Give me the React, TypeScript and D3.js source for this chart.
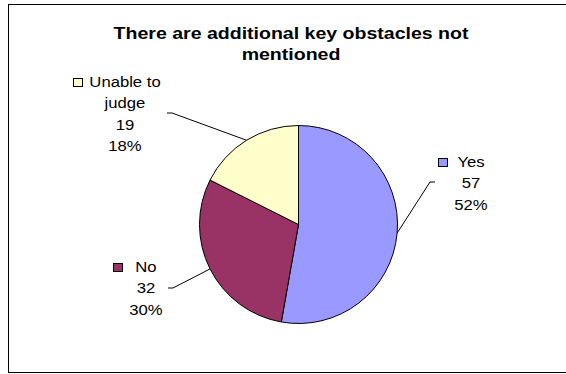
import React, { useEffect, useRef } from "react";
import * as d3 from "d3";

const categories = ["Yes", "No", "Unable to judge"];
const values = [57, 32, 19];
const percentLabels = ["52%", "30%", "18%"];
const nameLines = [["Yes"], ["No"], ["Unable to", "judge"]];
const colors = ["#9999FF", "#993366", "#FFFFCC"];
const titleLines = ["There are additional key obstacles not", "mentioned"];

const W = 566;
const H = 374;
const FONT = "'Liberation Sans', Arial, sans-serif";
const SX = 1.15; // horizontal stretch of the original picture

// layout for label blocks (centre x, first baseline, leader elbow, leader tick end)
const labelLayout = [
  { cx: 471, y0: 167, elbow: [430, 182], tick: 435 },
  { cx: 146, y0: 272, elbow: [173, 288], tick: 168 },
  { cx: 125, y0: 87, elbow: [172, 113], tick: 167 },
];

export default function App() {
  const ref = useRef<SVGSVGElement | null>(null);

  useEffect(() => {
    const svg = d3.select(ref.current);
    svg.selectAll("*").remove();

    // frame
    svg
      .append("rect")
      .attr("x", 8.5)
      .attr("y", 4.5)
      .attr("width", 562)
      .attr("height", 368)
      .attr("fill", "#fff")
      .attr("stroke", "#000")
      .attr("stroke-width", 1);

    // title
    const title = svg.append("g").attr("transform", `translate(291,0) scale(${SX},1)`);
    titleLines.forEach((t, i) => {
      title
        .append("text")
        .attr("x", 0)
        .attr("y", 39 + i * 21.5)
        .attr("text-anchor", "middle")
        .attr("font-family", FONT)
        .attr("font-weight", "bold")
        .attr("font-size", 17)
        .attr("fill", "#000")
        .text(t);
    });

    const cx = 298.5;
    const cy = 224.5;
    const r = 99;

    const pie = d3
      .pie<number>()
      .sort(null)
      .value((d) => d)
      .startAngle(0)
      .endAngle(2 * Math.PI);
    const arcs = pie(values);
    const arcGen = d3.arc<d3.PieArcDatum<number>>().innerRadius(0).outerRadius(r);

    const g = svg.append("g").attr("transform", `translate(${cx},${cy})`);
    g.selectAll("path")
      .data(arcs)
      .enter()
      .append("path")
      .attr("d", (d) => arcGen(d) as string)
      .attr("fill", (_d, i) => colors[i])
      .attr("stroke", "#000")
      .attr("stroke-width", 1)
      .attr("stroke-linejoin", "round");

    // leader lines
    arcs.forEach((a, i) => {
      const mid = (a.startAngle + a.endAngle) / 2;
      const px = cx + r * Math.sin(mid);
      const py = cy - r * Math.cos(mid);
      const L = labelLayout[i];
      svg
        .append("polyline")
        .attr("points", `${px},${py} ${L.elbow[0]},${L.elbow[1]} ${L.tick},${L.elbow[1]}`)
        .attr("fill", "none")
        .attr("stroke", "#000")
        .attr("stroke-width", 1);
    });

    // labels
    categories.forEach((_c, i) => {
      const L = labelLayout[i];
      const lines = [...nameLines[i], String(values[i]), percentLabels[i]];
      const lg = svg.append("g").attr("transform", `translate(${L.cx},0) scale(${SX},1)`);
      let maxW = 0;
      lines.forEach((t, j) => {
        const te = lg
          .append("text")
          .attr("x", 0)
          .attr("y", L.y0 + j * 21.3)
          .attr("text-anchor", "middle")
          .attr("font-family", FONT)
          .attr("font-size", 14.5)
          .attr("fill", "#000")
          .text(t);
        const w = (te.node() as SVGTextElement).getComputedTextLength();
        if (w > maxW) maxW = w;
      });
      const left = L.cx - (maxW * SX) / 2;
      const ks = 9;
      svg
        .append("rect")
        .attr("x", Math.round(left - 7 - ks) + 0.5)
        .attr("y", Math.round(L.y0 - 9) + 0.5)
        .attr("width", ks)
        .attr("height", 8)
        .attr("fill", colors[i])
        .attr("stroke", "#000")
        .attr("stroke-width", 1);
    });
  }, []);

  return (
    <svg
      ref={ref}
      width={W}
      height={H}
      style={{ position: "absolute", left: 0, top: 0, background: "#fff" }}
    />
  );
}
